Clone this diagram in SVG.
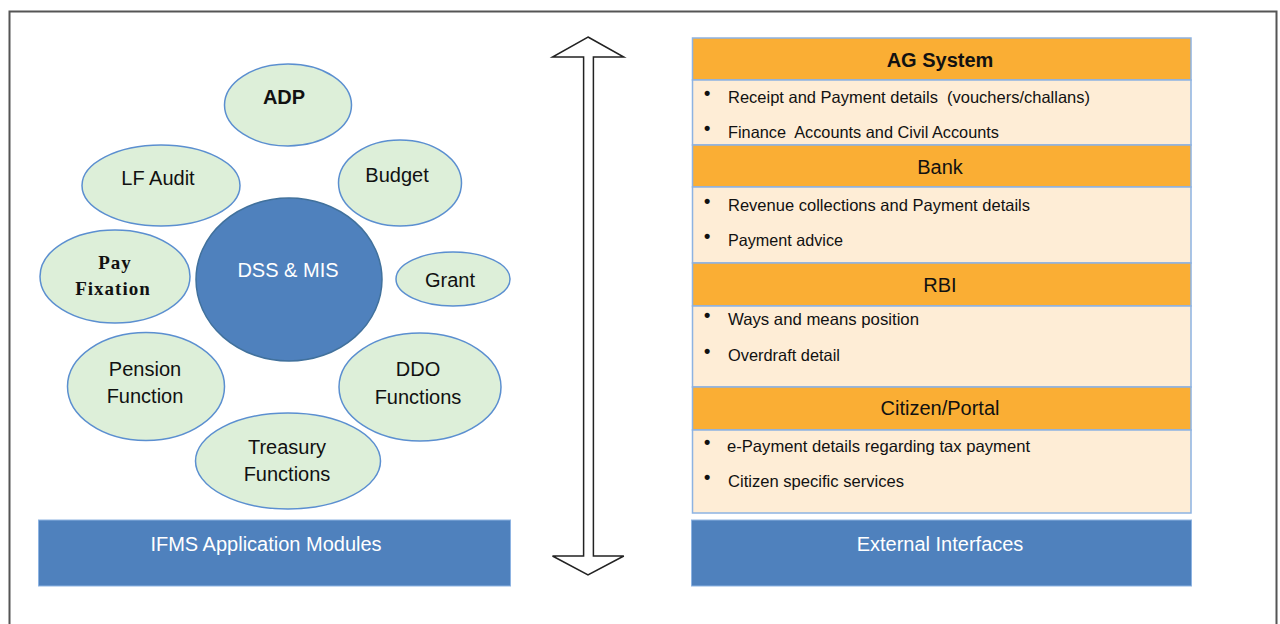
<svg xmlns="http://www.w3.org/2000/svg" width="1280" height="624" viewBox="0 0 1280 624">
<style>
.mod{fill:#DDEFD9;stroke:#5B8FD0;stroke-width:1.5}
.lbl{font-family:"Liberation Sans Narrow","Liberation Sans",Arial,sans-serif;font-size:20px;fill:#111;text-anchor:middle}
.ser{font-family:"Liberation Serif","Times New Roman",serif;font-size:19px;font-weight:bold;fill:#111;text-anchor:middle;letter-spacing:1px}
.wt{font-family:"Liberation Sans Narrow","Liberation Sans",Arial,sans-serif;font-size:20px;fill:#fff;text-anchor:middle}
.hdr{fill:#FAAE34;stroke:#8DB3E2;stroke-width:1.5}
.body{fill:#FEEDD6;stroke:#8DB3E2;stroke-width:1.5}
.bar{fill:#4F81BD;stroke:#8DB3E2;stroke-width:1}
.ht{font-family:"Liberation Sans Narrow","Liberation Sans",Arial,sans-serif;font-size:20px;fill:#111;text-anchor:middle}
.bt{font-family:"Liberation Sans Narrow","Liberation Sans",Arial,sans-serif;font-size:16.5px;fill:#111}
.bul{font-family:"Liberation Sans",Arial,sans-serif;font-size:18px;font-weight:bold;fill:#111}
</style>
<rect x="0" y="0" width="1280" height="624" fill="#fff"/>
<path d="M9.5 640 V11.5 H1276.5 V640" fill="none" stroke="#555" stroke-width="2"/>

<g id="connectors">
<polygon points="588,37 623.8,57 593.4,57 593.4,556 623.8,556 588,575 552.5,556 583.6,556 583.6,57 552.5,57" fill="#fff" stroke="#222" stroke-width="1.5"/>
</g>

<g id="adp"><ellipse class="mod" cx="288" cy="105" rx="63.5" ry="41"/><text class="lbl" x="284" y="104" font-weight="bold">ADP</text></g>
<g id="lf-audit"><ellipse class="mod" cx="161" cy="185.5" rx="79" ry="40.5"/><text class="lbl" x="158" y="185">LF Audit</text></g>
<g id="budget"><ellipse class="mod" cx="400" cy="183" rx="61.5" ry="43"/><text class="lbl" x="397" y="182">Budget</text></g>
<g id="pay-fixation"><ellipse class="mod" cx="115" cy="276.5" rx="75" ry="46.5"/><text class="ser" x="115" y="269">Pay</text><text class="ser" x="113" y="295">Fixation</text></g>
<g id="dss-mis"><ellipse cx="289" cy="279.5" rx="93" ry="81.5" fill="#4F81BD" stroke="#41719C" stroke-width="1.5"/><text class="wt" x="288" y="277">DSS &amp; MIS</text></g>
<g id="grant"><ellipse class="mod" cx="453" cy="279" rx="57" ry="27"/><text class="lbl" x="450" y="287">Grant</text></g>
<g id="pension"><ellipse class="mod" cx="146" cy="386.5" rx="78.5" ry="54"/><text class="lbl" x="145" y="376">Pension</text><text class="lbl" x="145" y="403">Function</text></g>
<g id="ddo"><ellipse class="mod" cx="420" cy="387" rx="81" ry="54"/><text class="lbl" x="418" y="376">DDO</text><text class="lbl" x="418" y="404">Functions</text></g>
<g id="treasury"><ellipse class="mod" cx="288" cy="461" rx="92.5" ry="48"/><text class="lbl" x="287" y="454">Treasury</text><text class="lbl" x="287" y="481">Functions</text></g>
<g id="ifms"><rect class="bar" x="38.5" y="520" width="472" height="66"/><text class="wt" x="266" y="551">IFMS Application Modules</text></g>

<g id="ag-system">
<rect class="hdr" x="692.5" y="38" width="498.5" height="42"/><text class="ht" x="940" y="67" font-weight="bold">AG System</text>
<rect class="body" x="692.5" y="80" width="498.5" height="65"/>
<text class="bul" x="704" y="99">•</text><text class="bt" x="728" y="103" textLength="362" lengthAdjust="spacingAndGlyphs" xml:space="preserve">Receipt and Payment details  (vouchers/challans)</text>
<text class="bul" x="704" y="134">•</text><text class="bt" x="728" y="138" textLength="271" lengthAdjust="spacingAndGlyphs" xml:space="preserve">Finance  Accounts and Civil Accounts</text>
</g>
<g id="bank">
<rect class="hdr" x="692.5" y="145" width="498.5" height="42"/><text class="ht" x="940" y="174">Bank</text>
<rect class="body" x="692.5" y="187" width="498.5" height="76"/>
<text class="bul" x="704" y="207">•</text><text class="bt" x="728" y="211" textLength="302" lengthAdjust="spacingAndGlyphs">Revenue collections and Payment details</text>
<text class="bul" x="704" y="242">•</text><text class="bt" x="728" y="246" textLength="115" lengthAdjust="spacingAndGlyphs">Payment advice</text>
</g>
<g id="rbi">
<rect class="hdr" x="692.5" y="263" width="498.5" height="43"/><text class="ht" x="940" y="292">RBI</text>
<rect class="body" x="692.5" y="306" width="498.5" height="81"/>
<text class="bul" x="704" y="321">•</text><text class="bt" x="728" y="325" textLength="191" lengthAdjust="spacingAndGlyphs">Ways and means position</text>
<text class="bul" x="704" y="357">•</text><text class="bt" x="728" y="361" textLength="112" lengthAdjust="spacingAndGlyphs">Overdraft detail</text>
</g>
<g id="citizen-portal">
<rect class="hdr" x="692.5" y="387" width="498.5" height="43"/><text class="ht" x="940" y="415">Citizen/Portal</text>
<rect class="body" x="692.5" y="430" width="498.5" height="83"/>
<text class="bul" x="704" y="448">•</text><text class="bt" x="727" y="452" textLength="303" lengthAdjust="spacingAndGlyphs">e-Payment details regarding tax payment</text>
<text class="bul" x="704" y="483">•</text><text class="bt" x="728" y="487" textLength="176" lengthAdjust="spacingAndGlyphs">Citizen specific services</text>
</g>
<g id="external"><rect class="bar" x="691.5" y="520" width="500" height="66"/><text class="wt" x="940" y="551">External Interfaces</text></g>
</svg>
